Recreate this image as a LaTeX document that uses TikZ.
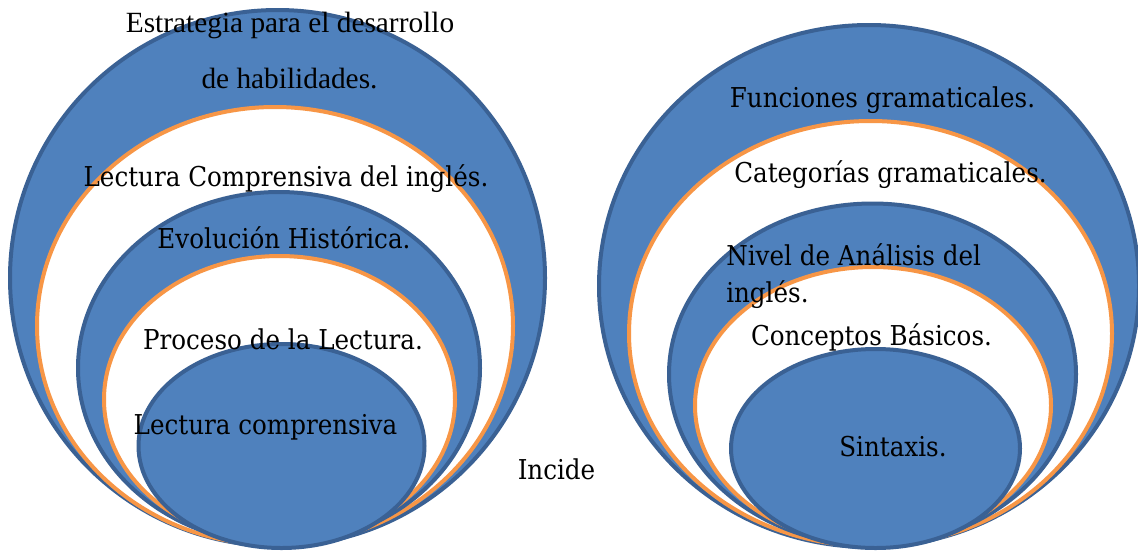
\documentclass[tikz,border=0pt]{standalone}
\usepackage{fontspec}
\newfontfamily\camfont[FakeStretch=0.9]{DejaVu Serif}
\newfontfamily\timesfont{Liberation Serif}
\definecolor{bandfill}{HTML}{4F81BD}
\definecolor{banddraw}{HTML}{3A6194}
\definecolor{ringdraw}{HTML}{F79646}
\begin{document}
\begin{tikzpicture}[x=0.75pt,y=-0.75pt,line join=round,
  band/.style={fill=bandfill,draw=banddraw,line width=3pt},
  ring/.style={fill=white,draw=ringdraw,line width=3pt},
  lbl/.style={anchor=base,inner sep=0pt,font=\camfont\fontsize{20.5}{24}\selectfont}]
\useasboundingbox (0,0) rectangle (1138,550);
% left target
\foreach \cx/\cy/\rx/\ry/\st in {277.5/278/267.5/268/band, 275/326/238/219/ring,
  279/368/201/176/band, 279.5/399.5/175.5/143.5/ring, 281.5/446/143/102/band}
  \draw[\st] (\cx,\cy) ellipse [x radius=\rx*0.75pt, y radius=\ry*0.75pt];
% right target
\foreach \cx/\cy/\rx/\ry/\st in {869/286/270/261/band, 870.5/333.5/241.5/212.5/ring,
  872.5/374.25/203.5/170.75/band, 873/405.5/178/138.5/ring, 875.5/448.5/144.5/99.5/band}
  \draw[\st] (\cx,\cy) ellipse [x radius=\rx*0.75pt, y radius=\ry*0.75pt];
% labels
\node[lbl,font=\timesfont\fontsize{22}{26}\selectfont] (estr) at (290,32) {Estrategia para el desarrollo};
\node[lbl,font=\timesfont\fontsize{22}{26}\selectfont] (habil) at (289.5,88) {de habilidades.};
\node[lbl] (lecing) at (286,186) {Lectura Comprensiva del inglés.};
\node[lbl] (evol) at (284,248) {Evolución Histórica.};
\node[lbl] (proc) at (283,349) {Proceso de la Lectura.};
\node[lbl] (leccomp) at (265.5,434) {Lectura comprensiva};
\node[lbl] (incide) at (556.5,479) {Incide};
\node[lbl] (func) at (882.5,107) {Funciones gramaticales.};
\node[lbl] (categ) at (890.5,182) {Categorías gramaticales.};
\node[lbl,anchor=base west] (nivel) at (726,265) {Nivel de Análisis del};
\node[lbl,anchor=base west] (ingles) at (726,302) {inglés.};
\node[lbl] (concep) at (871.5,345) {Conceptos Básicos.};
\node[lbl] (sintax) at (893,456) {Sintaxis.};
\end{tikzpicture}
\end{document}
